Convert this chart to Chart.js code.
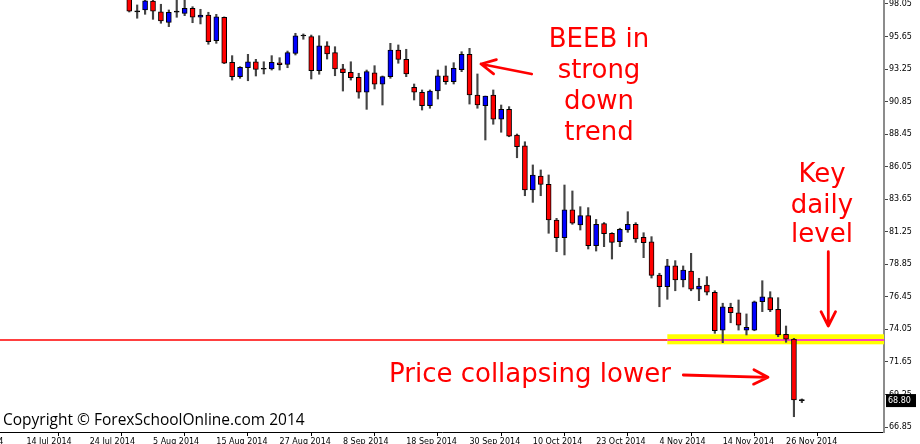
<!DOCTYPE html>
<html>
<head>
<meta charset="utf-8">
<script src="https://cdn.jsdelivr.net/npm/chart.js@4.4.0/dist/chart.umd.min.js"></script>
<style>
  html, body { margin: 0; padding: 0; background: #fff; }
  #wrap { width: 920px; height: 444px; }
</style>
</head>
<body>
<div id="wrap"><canvas id="chart" width="920" height="444"></canvas></div>
<script>
// Daily candles, bar index 0 = 14 Jul 2014
const firstBar = 13;
const opens = [
  98.60, 97.49, 97.61, 98.27, 97.48, 96.70, 97.47, 97.36, 97.73, 97.07,
  97.24, 95.34, 97.07, 93.75, 92.69, 93.35, 93.79, 93.27, 93.26, 93.72,
  93.60, 94.41, 95.69, 95.64, 93.13, 94.97, 94.46, 93.26, 93.01, 92.64,
  91.54, 92.98, 92.13, 92.69, 94.66, 93.97, 91.91, 91.54, 90.55, 91.63,
  92.76, 92.32, 93.20, 94.34, 91.34, 90.55, 91.34, 89.55, 90.28, 88.39,
  87.58, 84.33, 85.36, 84.75, 82.12, 80.81, 82.86, 81.75, 82.44, 80.22,
  81.85, 81.14, 80.52, 81.38, 81.80, 80.84, 80.50, 78.06, 77.20, 78.73,
  77.69, 78.36, 77.01, 77.32, 76.79, 74.00, 75.68, 75.28, 74.00, 74.00,
  76.09, 76.39, 75.53, 73.69, 73.34, 68.80
];
const highs = [
  98.90, 97.98, 98.40, 98.40, 98.03, 97.61, 98.40, 98.40, 97.85, 97.66,
  97.44, 97.29, 97.10, 94.24, 93.43, 94.34, 93.97, 93.79, 94.24, 94.09,
  94.58, 95.89, 95.84, 95.76, 95.71, 95.27, 94.90, 93.60, 93.79, 92.94,
  93.18, 93.50, 92.74, 95.15, 95.03, 94.71, 92.15, 91.71, 91.71, 93.18,
  93.48, 93.72, 94.53, 94.78, 92.89, 91.26, 91.71, 90.60, 90.48, 88.46,
  87.89, 86.18, 85.81, 85.44, 82.24, 84.70, 84.26, 83.10, 83.03, 82.16,
  81.93, 81.18, 81.51, 82.73, 81.92, 81.18, 80.89, 78.19, 79.22, 79.12,
  78.73, 79.66, 77.82, 77.94, 76.90, 75.98, 75.98, 76.22, 75.19, 76.14,
  77.64, 76.83, 76.39, 74.30, 73.39, 68.92
];
const lows = [
  97.46, 97.00, 97.29, 96.92, 96.63, 96.38, 97.07, 97.19, 96.67, 96.58,
  95.08, 95.15, 93.65, 92.44, 92.57, 92.39, 92.74, 92.89, 93.18, 93.18,
  93.35, 94.29, 95.45, 92.52, 92.87, 93.99, 92.76, 91.63, 92.44, 91.10,
  90.28, 91.78, 90.60, 92.57, 93.68, 92.69, 90.97, 90.23, 90.36, 91.04,
  92.13, 92.15, 93.06, 90.67, 90.36, 88.02, 89.18, 88.59, 88.26, 86.71,
  83.91, 83.42, 83.91, 81.14, 79.78, 79.54, 81.80, 81.38, 79.98, 79.83,
  80.15, 79.24, 80.15, 81.21, 80.47, 79.34, 77.84, 75.72, 76.27, 76.90,
  77.18, 76.90, 76.17, 76.59, 73.76, 73.07, 74.54, 74.00, 73.64, 73.95,
  75.36, 75.36, 73.51, 73.10, 67.61, 68.65
];
const closes = [
  97.53, 97.47, 98.29, 97.53, 96.80, 97.44, 97.45, 97.73, 97.07, 97.24,
  95.27, 97.11, 93.68, 92.69, 93.38, 93.79, 93.23, 93.24, 93.75, 93.57,
  94.46, 95.71, 95.72, 93.13, 94.97, 94.36, 93.26, 92.98, 92.61, 91.54,
  93.06, 92.13, 92.69, 94.66, 93.97, 92.89, 91.54, 90.55, 91.63, 92.76,
  92.32, 93.31, 94.34, 91.34, 90.60, 91.26, 89.55, 90.28, 88.31, 87.53,
  84.33, 85.44, 84.75, 82.12, 80.81, 82.86, 81.88, 82.44, 80.22, 81.80,
  81.11, 80.47, 81.43, 81.80, 80.72, 80.44, 78.03, 77.20, 78.73, 77.69,
  78.43, 77.01, 77.25, 76.79, 73.95, 75.72, 75.28, 74.37, 74.21, 76.09,
  76.46, 75.48, 73.64, 73.32, 68.84, 68.80
];

// Time axis labels (bar index of each label)
const dateIdx = [-8, 0, 8, 16, 24, 32, 40, 48, 56, 64, 72, 80, 88, 96];
const dateLabels = [
  '4 Jul 2014', '14 Jul 2014', '24 Jul 2014', '5 Aug 2014', '15 Aug 2014',
  '27 Aug 2014', '8 Sep 2014', '18 Sep 2014', '30 Sep 2014', '10 Oct 2014',
  '23 Oct 2014', '4 Nov 2014', '14 Nov 2014', '26 Nov 2014'
];
const priceTicks = [98.05, 95.65, 93.25, 90.85, 88.45, 86.05, 83.65, 81.25,
  78.85, 76.45, 74.05, 71.65, 69.25, 66.85];

// Key level and zone
const levelPrice = 73.27;
const zoneTop = 73.69;
const zoneBottom = 72.95;
const zoneFromBar = 81;
const lastPrice = 68.80;

const bodies = opens.map((o, i) => ({ x: firstBar + i, y: [o, closes[i]] }));
const wicks = lows.map((l, i) => ({ x: firstBar + i, y: [l, highs[i]] }));

function bodyColor(ctx) {
  const i = ctx.dataIndex;
  const d = closes[i] - opens[i];
  if (Math.abs(d) < 0.05) return '#000000';
  return d > 0 ? '#0000ff' : '#ff0000';
}

function drawArrow(ctx, x1, y1, x2, y2) {
  const a = Math.atan2(y2 - y1, x2 - x1);
  const len = 16, spread = 0.47;
  ctx.beginPath();
  ctx.moveTo(x1, y1);
  ctx.lineTo(x2, y2);
  ctx.moveTo(x2 - len * Math.cos(a - spread), y2 - len * Math.sin(a - spread));
  ctx.lineTo(x2, y2);
  ctx.lineTo(x2 - len * Math.cos(a + spread), y2 - len * Math.sin(a + spread));
  ctx.stroke();
}

const levelPlugin = {
  id: 'levelZone',
  beforeDatasetsDraw(chart) {
    const { ctx, chartArea: area, scales: { x, y } } = chart;
    const xs = x.getPixelForValue(zoneFromBar);
    const yt = y.getPixelForValue(zoneTop);
    const yb = y.getPixelForValue(zoneBottom);
    const yl = y.getPixelForValue(levelPrice);
    ctx.save();
    ctx.fillStyle = '#ffff00';
    ctx.fillRect(xs, yt, area.right - xs, yb - yt);
    ctx.lineWidth = 1.5;
    ctx.strokeStyle = '#ff0000';
    ctx.beginPath();
    ctx.moveTo(area.left, yl);
    ctx.lineTo(xs, yl);
    ctx.stroke();
    ctx.strokeStyle = '#ff00ff';
    ctx.beginPath();
    ctx.moveTo(xs, yl);
    ctx.lineTo(area.right, yl);
    ctx.stroke();
    ctx.restore();
  },
  afterDraw(chart) {
    const { ctx, chartArea: area, scales: { y } } = chart;
    ctx.save();
    // current price box
    const py = y.getPixelForValue(lastPrice);
    ctx.fillStyle = '#000';
    ctx.fillRect(area.right + 2, py - 6.5, 30, 13);
    ctx.fillStyle = '#fff';
    ctx.font = '8px "DejaVu Sans"';
    ctx.textBaseline = 'middle';
    ctx.textAlign = 'left';
    ctx.fillText(lastPrice.toFixed(2), area.right + 4, py + 0.5);

    // notes
    ctx.fillStyle = '#ff0000';
    ctx.textBaseline = 'alphabetic';
    ctx.font = '26px "DejaVu Sans"';
    ctx.textAlign = 'center';
    ['BEEB in', 'strong', 'down', 'trend'].forEach((t, i) => {
      ctx.fillText(t, 599, 46.7 + i * 31);
    });
    ['Key', 'daily', 'level'].forEach((t, i) => {
      ctx.fillText(t, 822, [181.7, 213, 242][i]);
    });
    ctx.textAlign = 'left';
    ctx.fillText('Price collapsing lower', 389, 382.3);

    ctx.strokeStyle = '#ff0000';
    ctx.lineWidth = 2.8;
    ctx.lineCap = 'round';
    ctx.lineJoin = 'round';
    drawArrow(ctx, 531.7, 74, 481, 64);
    drawArrow(ctx, 828.3, 251.7, 828.3, 326);
    drawArrow(ctx, 683.3, 375, 768, 377.3);

    ctx.fillStyle = '#000';
    ctx.font = '15.5px "Open Sans"';
    ctx.fillText('Copyright \u00A9 ForexSchoolOnline.com 2014', 3, 425);
    ctx.restore();
  }
};

new Chart(document.getElementById('chart').getContext('2d'), {
  type: 'bar',
  data: {
    datasets: [
      {
        label: 'Body',
        data: bodies,
        backgroundColor: bodyColor,
        borderColor: '#000',
        borderWidth: 1,
        borderSkipped: false,
        barThickness: 5,
        minBarLength: 1,
        grouped: false,
        order: 1
      },
      {
        label: 'Wick',
        data: wicks,
        backgroundColor: '#444444',
        borderWidth: 0,
        barThickness: 1.5,
        grouped: false,
        order: 2
      }
    ]
  },
  options: {
    responsive: false,
    animation: false,
    devicePixelRatio: 1,
    layout: { padding: 0 },
    plugins: {
      legend: { display: false },
      tooltip: { enabled: false }
    },
    scales: {
      x: {
        type: 'linear',
        min: -3.336,
        max: 108.38,
        bounds: 'data',
        offset: false,
        grid: {
          drawOnChartArea: false,
          drawTicks: true,
          tickLength: 4,
          color: '#000'
        },
        border: { display: true, color: '#000', width: 1 },
        ticks: {
          autoSkip: false,
          maxRotation: 0,
          minRotation: 0,
          align: 'start',
          padding: 1,
          color: '#000',
          font: { family: 'DejaVu Sans', size: 8 },
          callback: function(value) {
            const k = dateIdx.indexOf(value);
            return k >= 0 ? dateLabels[k] : '';
          }
        },
        afterBuildTicks: function(scale) {
          scale.ticks = dateIdx.map(v => ({ value: v }));
        },
        afterFit: function(scale) {
          scale.height = 12;
          scale.paddingLeft = 0;
          scale.paddingRight = 0;
        }
      },
      y: {
        type: 'linear',
        position: 'right',
        min: 66.482,
        max: 98.345,
        bounds: 'data',
        grid: {
          drawOnChartArea: false,
          drawTicks: true,
          tickLength: 4,
          color: '#444'
        },
        border: { display: true, color: '#8c8c8c', width: 2 },
        ticks: {
          padding: 1,
          color: '#000',
          font: { family: 'DejaVu Sans', size: 8 },
          callback: function(value) {
            return Number(value).toFixed(2);
          }
        },
        afterBuildTicks: function(scale) {
          scale.ticks = priceTicks.map(v => ({ value: v }));
        },
        afterFit: function(scale) {
          scale.width = 36;
          scale.paddingTop = 0;
          scale.paddingBottom = 0;
        }
      }
    }
  },
  plugins: [levelPlugin]
});
</script>
</body>
</html>
